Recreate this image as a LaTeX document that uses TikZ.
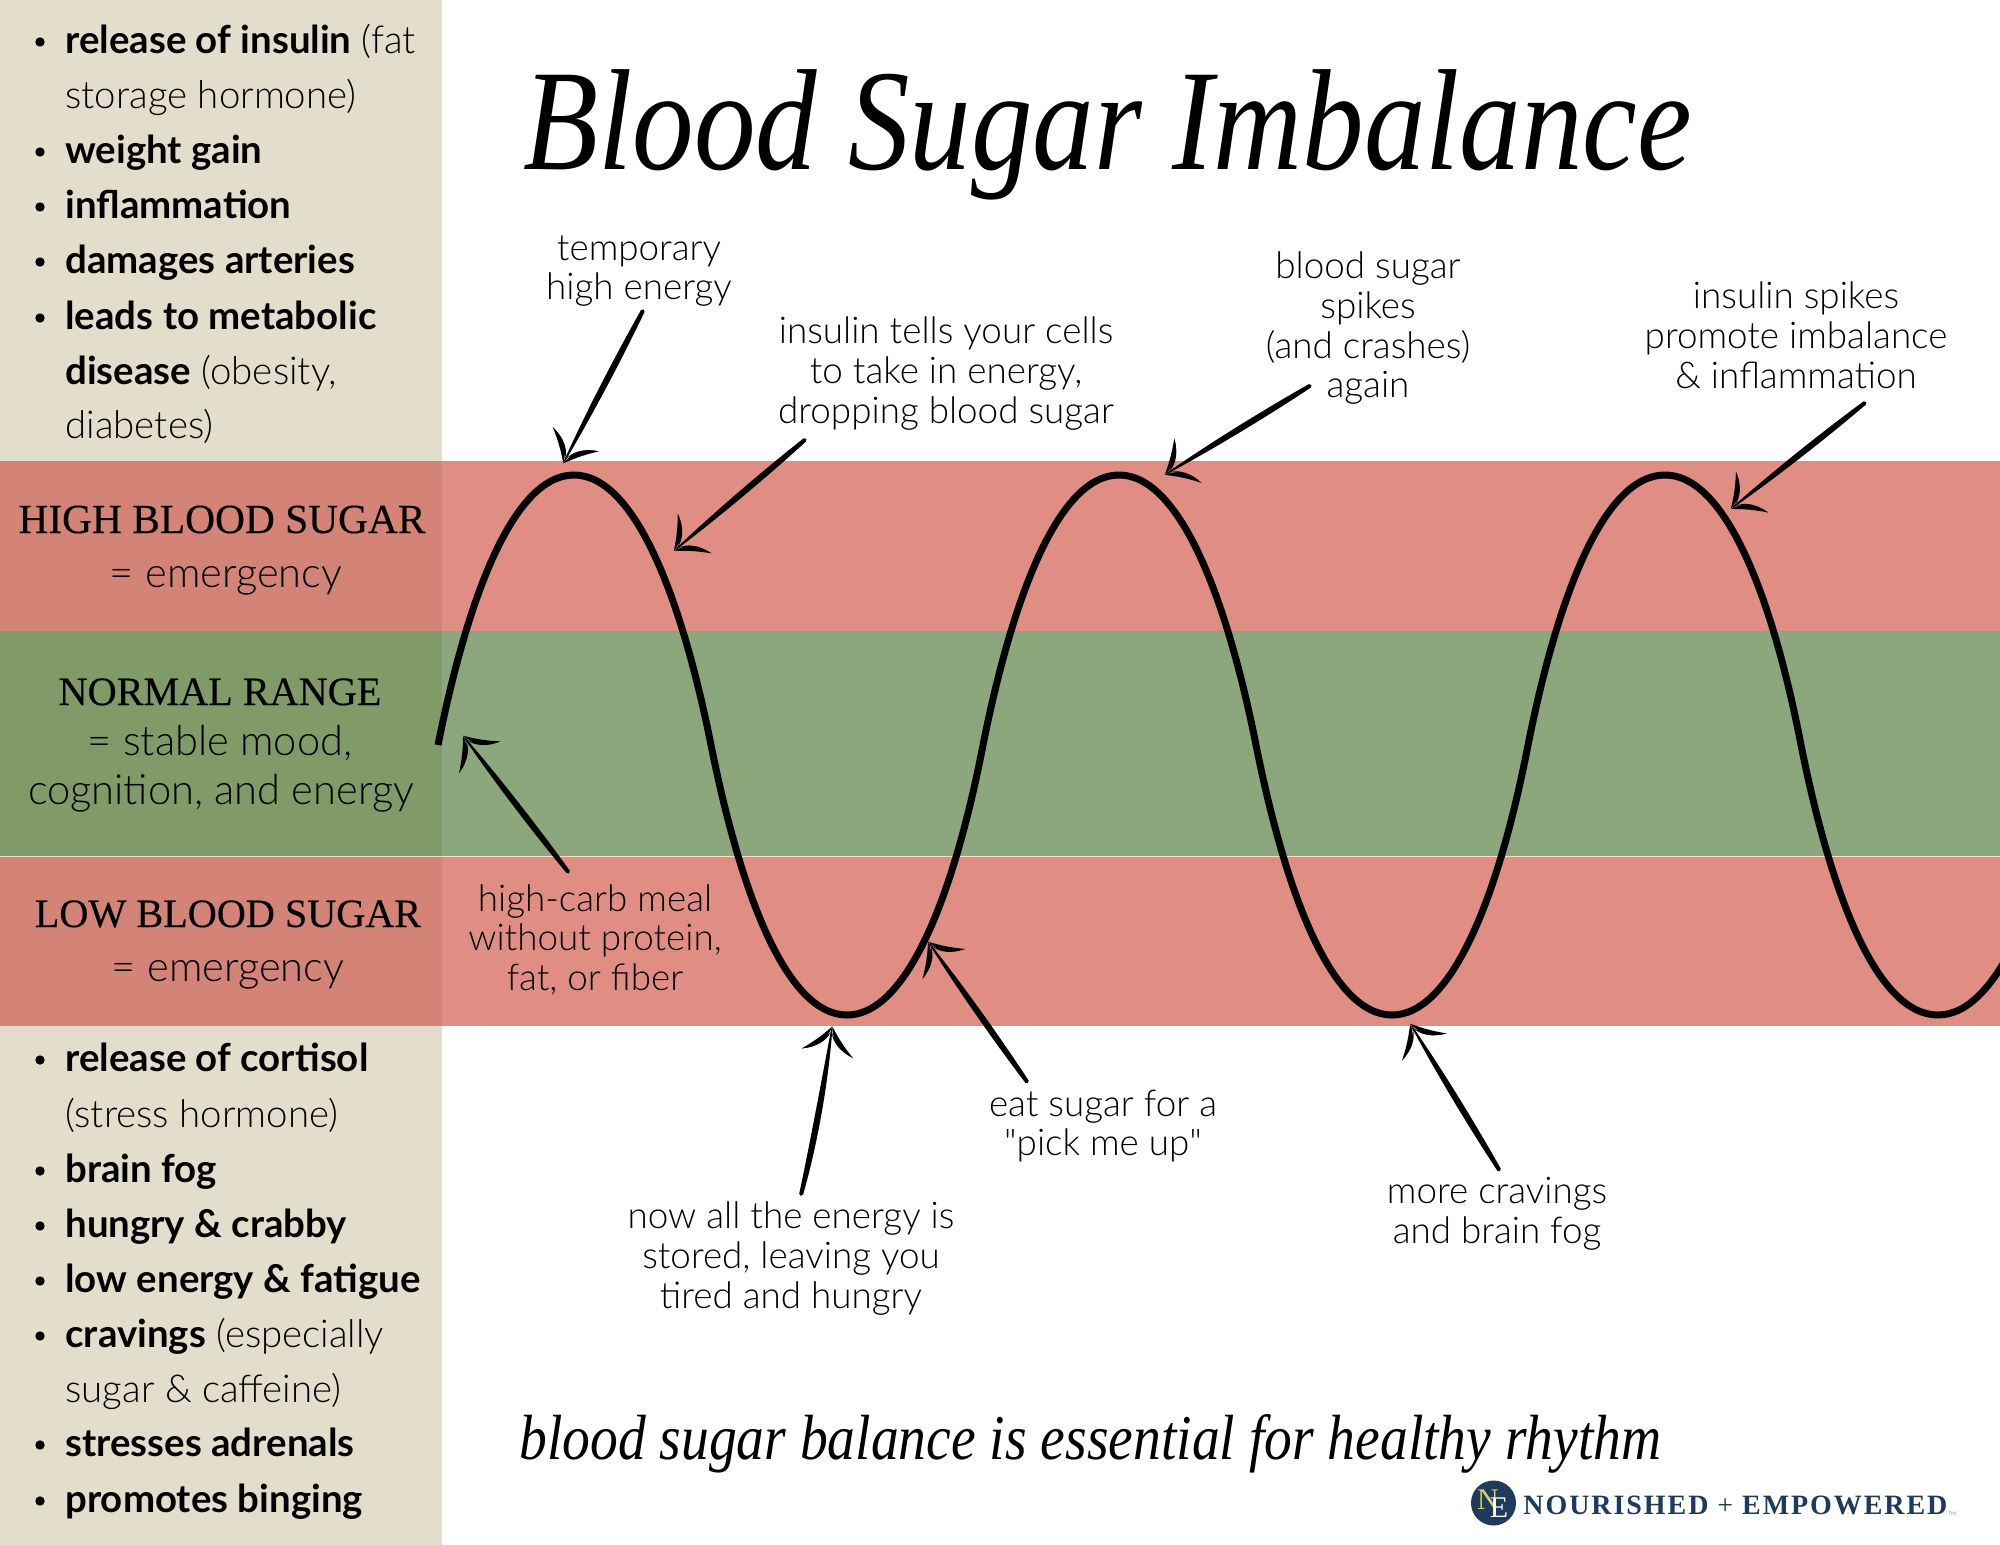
\documentclass[tikz,border=0pt]{standalone}
\usepackage{fontspec}
\usetikzlibrary{calc}
\setmainfont{Lato}[UprightFont=* Light,BoldFont=* Bold]
\newfontfamily\plainq{Lato}[UprightFont=* Light]
\newfontfamily\serifh{Liberation Serif}
\newfontfamily\serifm{Liberation Serif}[RawFeature={embolden=0.35}]
\definecolor{panel}{HTML}{E3DECB}
\definecolor{redband}{HTML}{E08E84}
\definecolor{redpanel}{HTML}{D38476}
\definecolor{greenband}{HTML}{8CA77C}
\definecolor{greenpanel}{HTML}{819B68}
\definecolor{navy}{HTML}{1F3A5A}
\definecolor{monoyellow}{HTML}{D9CF6A}
\newcommand{\handarrow}[3][0]{%
  \path let \p1=($(#2)-(#3)$), \n1={atan2(\y1,\x1)}, \n2={veclen(\x1,\y1)} in \pgfextra{\xdef\hang{\n1}\xdef\hlenr{\n2}};
  \pgfmathsetmacro{\hl}{\hlenr}\def\hb{#1}%
  \begin{scope}[shift={(#3)},rotate=\hang,x=1pt,y=1pt]
    \fill (0.5,0.3) .. controls ({0.35*\hl},{\hb+1.9}) and ({0.7*\hl},{\hb+1.9}) .. ({\hl},1.1)
      .. controls ({\hl+1.2},0.6) and ({\hl+1.2},-0.6) .. ({\hl},-0.9)
      .. controls ({0.7*\hl},{\hb-1.8}) and ({0.35*\hl},{\hb-1.8}) .. (0.5,-0.3) -- cycle;
    \fill (-0.8,0) .. controls (7,1.6) and (10.8,6) .. (12.8,13) .. controls (8.5,8) and (5,4.5) .. (-0.8,0) -- cycle;
    \fill (-0.8,0) .. controls (7,-1.6) and (10.8,-6) .. (12.8,-13) .. controls (8.5,-8) and (5,-4.5) .. (-0.8,0) -- cycle;
    \fill (2,0.2) .. controls (6,2.6) and (9,5.6) .. (12.8,13) .. controls (10.8,6) and (7,1.6) .. (2,0.2) -- cycle;
    \fill (2,-0.2) .. controls (6,-2.6) and (9,-5.6) .. (12.8,-13) .. controls (10.8,-6) and (7,-1.6) .. (2,-0.2) -- cycle;
  \end{scope}}
\newcommand{\bitem}[2]{%
  \node[bulletdot] (b#1) at (40,#1-10) {};
  \node[listline] (t#1) at (65,#1+1.5) {#2};}
\tikzset{
  bulletdot/.style={circle,fill=black,inner sep=0pt,minimum size=4.7pt},
  listline/.style={anchor=base west,inner sep=0pt,font=\fontsize{19.2}{22}\selectfont},
  bandhead/.style={anchor=base,inner sep=0pt,font=\serifm\fontsize{20.1}{24}\selectfont},
  bandtext/.style={anchor=base,inner sep=0pt,font=\fontsize{20.8}{24}\selectfont},
  note/.style={anchor=north,inner sep=0pt,align=center,font=\fontsize{18.4}{19.85}\selectfont},
  curve/.style={line width=3.5pt,line cap=butt,line join=round},
}
\begin{document}
\begin{tikzpicture}[x=0.5pt,y=-0.5pt]
\useasboundingbox (0,0) rectangle (2000,1545);
% panels and bands
\fill[white] (0,0) rectangle (2000,1545);
\fill[panel] (0,0) rectangle (442,1545);
\fill[redband] (442,461) rectangle (2000,630.5);
\fill[greenband] (442,630.5) rectangle (2000,856);
\fill[redband] (442,856) rectangle (2000,1026);
\fill[redpanel] (0,461) rectangle (442,630.5);
\fill[greenpanel] (0,630.5) rectangle (442,856);
\fill[redpanel] (0,856) rectangle (442,1026);
\draw[line width=0.4pt,color=white!70!redband] (0,856) -- (2000,856);
% title
\node[anchor=base west,inner sep=0pt] (title) at (523,170) {\scalebox{1}[1.17]{\resizebox{584pt}{!}{\serifh\itshape Blood Sugar Imbalance}}};
\node[anchor=base west,inner sep=0pt] (tag) at (519,1459) {\scalebox{1}[1.15]{\resizebox{571pt}{!}{\serifh\itshape blood sugar balance is essential for healthy rhythm}}};
% upper list
\bitem{52}{\textbf{release of insulin} (fat}
\node[listline] (t107) at (65,108.5) {storage hormone)};
\bitem{162}{\textbf{weight gain}}
\bitem{217}{\textbf{inflammation}}
\bitem{272}{\textbf{damages arteries}}
\bitem{328}{\textbf{leads to metabolic}}
\node[listline] (t383) at (65,384.5) {\textbf{disease} (obesity,};
\node[listline] (t437) at (65,438.5) {diabetes)};
% lower list
\bitem{1070}{\textbf{release of cortisol}}
\node[listline] (t1126) at (65,1127.5) {(stress hormone)};
\bitem{1181}{\textbf{brain fog}}
\bitem{1236}{\textbf{hungry \& crabby}}
\bitem{1291}{\textbf{low energy \& fatigue}}
\bitem{1346}{\textbf{cravings} (especially}
\node[listline] (t1401) at (65,1402.5) {sugar \& caffeine)};
\bitem{1455}{\textbf{stresses adrenals}}
\bitem{1511}{\textbf{promotes binging}}
% band labels
\node[bandhead,font=\serifm\fontsize{20.7}{24}\selectfont] (h1) at (222,533) {HIGH BLOOD SUGAR};
\node[bandtext] (h2) at (226,587) {= emergency};
\node[bandhead] (n1) at (220,705) {NORMAL RANGE};
\node[bandtext] (n2) at (220,755) {= stable mood,};
\node[bandtext] (n3) at (221,804) {cognition, and energy};
\node[bandhead] (l1) at (228,927) {LOW BLOOD SUGAR};
\node[bandtext] (l2) at (228,981) {= emergency};
% curve
\begin{scope}
\clip (0,0) rectangle (2000,1545);
\draw[curve] (438,745)
  .. controls (468,595) and (514,475) .. (574,475)
  .. controls (634,475) and (681,595) .. (711,745)
  .. controls (741,895) and (787,1015) .. (847,1015)
  .. controls (907,1015) and (954,895) .. (983,745)
  .. controls (1013,595) and (1059,475) .. (1119,475)
  .. controls (1179,475) and (1226,595) .. (1256,745)
  .. controls (1286,895) and (1332,1015) .. (1392,1015)
  .. controls (1452,1015) and (1499,895) .. (1528,745)
  .. controls (1558,595) and (1604,475) .. (1665,475)
  .. controls (1725,475) and (1772,595) .. (1801,745)
  .. controls (1831,895) and (1877,1015) .. (1938,1015)
  .. controls (1998,1015) and (2045,895) .. (2074,745);
\end{scope}
% annotation labels
\node[note] (a1) at (639,232) {\strut temporary\\high energy\strut};
\node[note] (a2) at (946,315.5) {\strut insulin tells your cells\\to take in energy,\\dropping blood sugar\strut};
\node[note] (a3) at (1368,250.5) {\strut blood sugar\\spikes\\(and crashes)\\again\strut};
\node[note] (a4) at (1796,280.5) {\strut insulin spikes\\promote imbalance\\\& inflammation\strut};
\node[note] (a5) at (595,883) {\strut high-carb meal\\without protein,\\fat, or fiber\strut};
\node[note] (a6) at (1103,1088) {\strut eat sugar for a\\{\plainq"}pick me up{\plainq"}\strut};
\node[note] (a7) at (791,1200.5) {\strut now all the energy is\\stored, leaving you\\tired and hungry\strut};
\node[note] (a8) at (1497,1175.5) {\strut more cravings\\and brain fog\strut};
% arrows
\coordinate (s1) at (643,311); \coordinate (e1) at (564,462);
\coordinate (s2) at (805,440); \coordinate (e2) at (675,550);
\coordinate (s3) at (1310,386); \coordinate (e3) at (1166,474);
\coordinate (s4) at (1865,403); \coordinate (e4) at (1732,508);
\coordinate (s5) at (568,872); \coordinate (e5) at (464,737);
\coordinate (s6) at (801,1194); \coordinate (e6) at (832,1028);
\coordinate (s7) at (1027,1082); \coordinate (e7) at (929,943);
\coordinate (s8) at (1499,1170); \coordinate (e8) at (1411,1025);
\handarrow{s1}{e1}
\handarrow{s2}{e2}
\handarrow{s3}{e3}
\handarrow{s4}{e4}
\handarrow{s5}{e5}
\handarrow[1.5]{s6}{e6}
\handarrow{s7}{e7}
\handarrow{s8}{e8}
% logo
\node[circle,fill=navy,inner sep=0pt,minimum size=22.5pt] (logo) at (1493.5,1503) {};
\node[inner sep=0pt,text=monoyellow,font=\serifh\fontsize{15}{16}\selectfont] (logon) at (1488,1500) {N};
\node[inner sep=0pt,text=white,font=\serifh\fontsize{15}{16}\selectfont] (logoe) at (1499,1508) {E};
\node[anchor=base west,inner sep=0pt,text=navy] (brand) at (1523,1514) {\resizebox{212pt}{!}{\serifh\fontsize{14.4}{16}\selectfont\addfontfeature{LetterSpace=7}\bfseries NOURISHED\ \mdseries+\ \bfseries EMPOWERED}};
\node[anchor=base west,inner sep=0pt,text=navy,font=\fontsize{2.5}{3}\selectfont] (tm) at (1948,1515) {TM};
\end{tikzpicture}
\end{document}
